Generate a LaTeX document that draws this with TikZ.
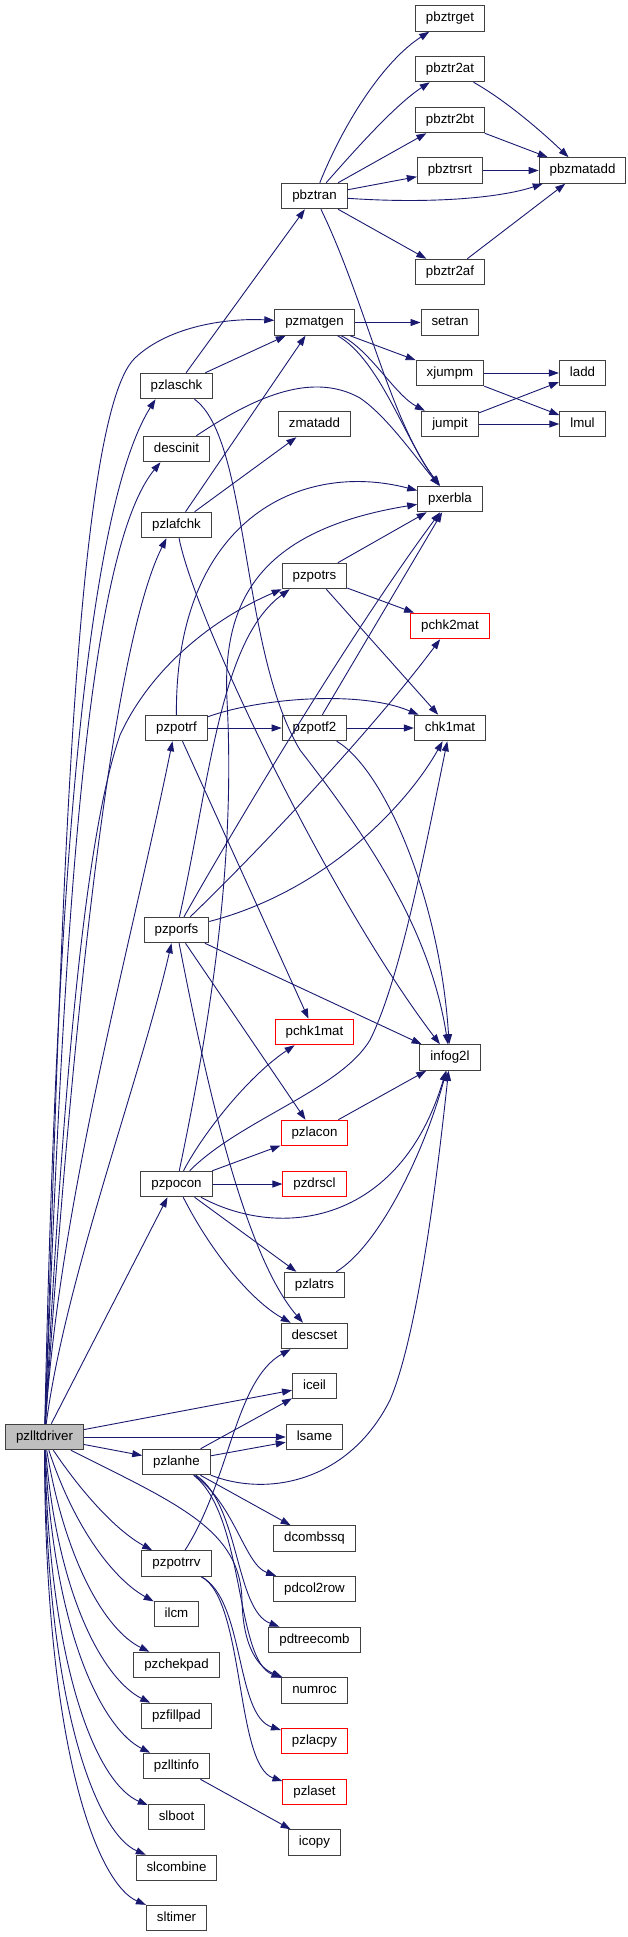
\documentclass[tikz,border=0pt]{standalone}
\usepackage{fontspec}
\setmainfont{Liberation Sans}
\usetikzlibrary{arrows.meta, positioning}
\definecolor{midnight}{RGB}{25,25,112}
\definecolor{rootgray}{RGB}{191,191,191}

\begin{document}
\begin{tikzpicture}[x=1pt, y=-1pt]
\tikzstyle{fn} = [rectangle, draw=black!75, fill=white,
    line width=1pt, minimum height=25.5pt,
    inner xsep=10.5pt, inner ysep=0pt,
    text height=9.6pt, text depth=2.9pt,
    font=\fontsize{13.3}{15}\selectfont]
\tikzstyle{fnred} = [fn, draw=red]
\tikzstyle{fnroot} = [fn, fill=rootgray]
\tikzstyle{call} = [draw=midnight, line width=0.9pt,
    -{Triangle[length=10pt, width=7pt]}]

\useasboundingbox (0,0) rectangle (628,1937);

% --- caller ---
\node (pzlltdriver) [fnroot] at (44.5,1437) {pzlltdriver};

% --- first level ---
\node (pzlaschk) [fn] at (176.5,386) {pzlaschk};
\node (descinit) [fn] at (176.5,449) {descinit};
\node (pzlafchk) [fn] at (176.5,525) {pzlafchk};
\node (pzpotrf) [fn] at (176.5,728) {pzpotrf};
\node (pzporfs) [fn] at (176.5,930) {pzporfs};
\node (pzpocon) [fn] at (176.5,1184) {pzpocon};
\node (pzlanhe) [fn] at (176.5,1462) {pzlanhe};
\node (pzpotrrv) [fn] at (176.5,1563.5) {pzpotrrv};
\node (ilcm) [fn] at (176.5,1614) {ilcm};
\node (pzchekpad) [fn] at (176.5,1665) {pzchekpad};
\node (pzfillpad) [fn] at (176.5,1716) {pzfillpad};
\node (pzlltinfo) [fn] at (176.5,1766) {pzlltinfo};
\node (slboot) [fn] at (176.5,1817) {slboot};
\node (slcombine) [fn] at (176.5,1868) {slcombine};
\node (sltimer) [fn] at (176.5,1918) {sltimer};

% --- second level ---
\node (pbztran) [fn] at (314.5,196) {pbztran};
\node (pzmatgen) [fn] at (314.5,322.5) {pzmatgen};
\node (zmatadd) [fn] at (314.5,424) {zmatadd};
\node (pzpotrs) [fn] at (314.5,576) {pzpotrs};
\node (pzpotf2) [fn] at (314.5,728) {pzpotf2};
\node (pchk1mat) [fnred] at (314.5,1032) {pchk1mat};
\node (pzlacon) [fnred] at (314.5,1133) {pzlacon};
\node (pzdrscl) [fnred] at (314.5,1184) {pzdrscl};
\node (pzlatrs) [fn] at (314.5,1285) {pzlatrs};
\node (descset) [fn] at (314.5,1336) {descset};
\node (iceil) [fn] at (314.5,1386) {iceil};
\node (lsame) [fn] at (314.5,1437) {lsame};
\node (dcombssq) [fn] at (314.5,1538.5) {dcombssq};
\node (pdcol2row) [fn] at (314.5,1589) {pdcol2row};
\node (pdtreecomb) [fn] at (314.5,1640) {pdtreecomb};
\node (numroc) [fn] at (314.5,1690.5) {numroc};
\node (pzlacpy) [fnred] at (314.5,1741) {pzlacpy};
\node (pzlaset) [fnred] at (314.5,1792) {pzlaset};
\node (icopy) [fn] at (314.5,1842.5) {icopy};

% --- third level ---
\node (pbztrget) [fn] at (450,18.5) {pbztrget};
\node (pbztr2at) [fn] at (450,69) {pbztr2at};
\node (pbztr2bt) [fn] at (450,120) {pbztr2bt};
\node (pbztrsrt) [fn] at (450,170.5) {pbztrsrt};
\node (pbztr2af) [fn] at (450,272) {pbztr2af};
\node (setran) [fn] at (450,322.5) {setran};
\node (xjumpm) [fn] at (450,373) {xjumpm};
\node (jumpit) [fn] at (450,424) {jumpit};
\node (pxerbla) [fn] at (450,499) {pxerbla};
\node (pchk2mat) [fnred] at (450,626) {pchk2mat};
\node (chk1mat) [fn] at (450,728) {chk1mat};
\node (infog2l) [fn] at (450,1057.5) {infog2l};

% --- fourth level ---
\node (pbzmatadd) [fn] at (582.5,170.5) {pbzmatadd};
\node (ladd) [fn] at (582.5,373) {ladd};
\node (lmul) [fn] at (582.5,424) {lmul};

% --- pbztran and pzmatgen ---
\draw [call] (pbztran) .. controls (345,120) and (385,60) .. (pbztrget);
\draw [call] (pbztran) .. controls (355,150) and (395,105) .. (pbztr2at);
\draw [call] (pbztran) -- (pbztr2bt);
\draw [call] (pbztran) -- (pbztrsrt);
\draw [call] (pbztran) .. controls (430,204) and (500,198) .. (pbzmatadd);
\draw [call] (pbztran) -- (pbztr2af);
\draw [call] (pbztran) .. controls (365,300) and (390,420) .. (pxerbla);
\draw [call] (pbztr2at) .. controls (505,100) and (540,130) .. (pbzmatadd);
\draw [call] (pbztr2bt) -- (pbzmatadd);
\draw [call] (pbztrsrt) -- (pbzmatadd);
\draw [call] (pbztr2af) -- (pbzmatadd);
\draw [call] (pzmatgen) -- (setran);
\draw [call] (pzmatgen) -- (xjumpm);
\draw [call] (pzmatgen) .. controls (370,350) and (395,395) .. (jumpit);
\draw [call] (pzmatgen) .. controls (380,360) and (405,440) .. (pxerbla);
\draw [call] (xjumpm) -- (ladd);
\draw [call] (xjumpm) -- (lmul);
\draw [call] (jumpit) -- (ladd);
\draw [call] (jumpit) -- (lmul);

% --- checks ---
\draw [call] (pzlaschk) -- (pbztran);
\draw [call] (pzlaschk) -- (pzmatgen);
\draw [call] (pzlaschk) .. controls (250,440) and (240,650) .. (300,750)
    .. controls (370,840) and (430,930) .. (infog2l);
\draw [call] (descinit) .. controls (250,400) and (310,370) .. (360,398)
    .. controls (385,415) and (410,450) .. (pxerbla);
\draw [call] (pzlafchk) -- (pzmatgen);
\draw [call] (pzlafchk) -- (zmatadd);
\draw [call] (pzlafchk) .. controls (195,620) and (330,900) .. (infog2l);

% --- factor and solve ---
\draw [call] (pzpotrs) -- (pxerbla);
\draw [call] (pzpotrs) -- (pchk2mat);
\draw [call] (pzpotrs) -- (chk1mat);
\draw [call] (pzpotrf) -- (pzpotf2);
\draw [call] (pzpotrf) .. controls (260,698) and (360,690) .. (chk1mat);
\draw [call] (pzpotrf) .. controls (175,520) and (300,460) .. (pxerbla);
\draw [call] (pzpotrf) -- (pchk1mat);
\draw [call] (pzpotf2) -- (chk1mat);
\draw [call] (pzpotf2) -- (pxerbla);
\draw [call] (pzpotf2) .. controls (385,770) and (440,900) .. (infog2l);

% --- refinement and condition ---
\draw [call] (pzporfs) .. controls (210,780) and (220,640)
    .. ([xshift=8pt]pzpotrs.south west);
\draw [call] (pzporfs) .. controls (270,840) and (380,720) .. (pchk2mat);
\draw [call] (pzporfs) .. controls (330,890) and (410,800) .. (chk1mat);
\draw [call] (pzporfs) .. controls (250,800) and (360,620) .. (pxerbla);
\draw [call] (pzporfs) -- (infog2l);
\draw [call] (pzporfs) -- (pzlacon);
\draw [call] (pzporfs) .. controls (200,1050) and (240,1250) .. (descset);
\draw [call] (pzpocon) .. controls (215,1000) and (235,850) .. (227,700)
    .. controls (222,600) and (260,530) .. (pxerbla);
\draw [call] (pzpocon) .. controls (240,1120) and (340,1090) .. (370,1040)
    .. controls (400,980) and (425,850) .. (chk1mat);
\draw [call] (pzpocon) .. controls (205,1130) and (250,1075) .. (pchk1mat);
\draw [call] (pzpocon) -- (pzlacon);
\draw [call] (pzpocon) -- (pzdrscl);
\draw [call] (pzpocon) .. controls (280,1240) and (400,1225) .. (infog2l);
\draw [call] (pzpocon) -- (pzlatrs);
\draw [call] (pzpocon) .. controls (210,1250) and (250,1300) .. (descset);
\draw [call] (pzlacon) -- (infog2l);
\draw [call] (pzlatrs) .. controls (380,1245) and (425,1150) .. (infog2l);

% --- norm, residual, info ---
\draw [call] (pzlanhe) -- (iceil);
\draw [call] (pzlanhe) -- (lsame);
\draw [call] (pzlanhe) .. controls (270,1498) and (350,1480) .. (390,1400)
    .. controls (420,1330) and (440,1150) .. (infog2l);
\draw [call] (pzlanhe) -- (dcombssq);
\draw [call] (pzlanhe) .. controls (235,1505) and (245,1565) .. (pdcol2row);
\draw [call] (pzlanhe) .. controls (240,1505) and (235,1610) .. (pdtreecomb);
\draw [call] (pzlanhe) .. controls (245,1515) and (235,1660) .. (numroc);
\draw [call] (pzpotrrv) .. controls (230,1480) and (235,1380) .. (descset);
\draw [call] (pzpotrrv) .. controls (245,1600) and (235,1715) .. (pzlacpy);
\draw [call] (pzpotrrv) .. controls (245,1600) and (235,1765) .. (pzlaset);
\draw [call] (pzlltinfo) -- (icopy);

% --- calls from the driver ---
\draw [call] (pzlltdriver) .. controls (60,1000) and (70,420) .. (135,358)
    .. controls (170,325) and (230,318) .. (pzmatgen);
\draw [call] (pzlltdriver) .. controls (55,950) and (80,520)
    .. ([xshift=-21pt]pzlaschk.south);
\draw [call] (pzlltdriver) .. controls (62,1000) and (80,560)
    .. ([xshift=-16pt]descinit.south);
\draw [call] (pzlltdriver) .. controls (70,1050) and (110,650)
    .. ([xshift=-10pt]pzlafchk.south);
\draw [call] (pzlltdriver) .. controls (60,1150) and (80,850) .. (120,735)
    .. controls (150,670) and (210,620) .. (pzpotrs.south west);
\draw [call] (pzlltdriver) .. controls (60,1200) and (130,950)
    .. ([xshift=-4pt]pzpotrf.south);
\draw [call] (pzlltdriver) .. controls (65,1280) and (140,1080)
    .. ([xshift=-5pt]pzporfs.south);
\draw [call] (pzlltdriver) -- ([xshift=-9pt]pzpocon.south);
\draw [call] (pzlltdriver) -- (iceil);
\draw [call] (pzlltdriver) -- (lsame);
\draw [call] (pzlltdriver) -- (pzlanhe);
\draw [call] (pzlltdriver) .. controls (80,1490) and (115,1530) .. (pzpotrrv);
\draw [call] (pzlltdriver) .. controls (180,1505) and (240,1530) .. (242,1600)
    .. controls (243,1650) and (260,1668) .. (numroc);
\draw [call] (pzlltdriver) .. controls (75,1530) and (115,1580) .. (ilcm);
\draw [call] (pzlltdriver) .. controls (65,1560) and (105,1630) .. (pzchekpad);
\draw [call] (pzlltdriver) .. controls (58,1600) and (105,1680) .. (pzfillpad);
\draw [call] (pzlltdriver) .. controls (54,1640) and (105,1730) .. (pzlltinfo);
\draw [call] (pzlltdriver) .. controls (50,1680) and (100,1785) .. (slboot);
\draw [call] (pzlltdriver) .. controls (47,1720) and (100,1835) .. (slcombine);
\draw [call] (pzlltdriver) .. controls (45,1760) and (100,1885) .. (sltimer);
\end{tikzpicture}
\end{document}
